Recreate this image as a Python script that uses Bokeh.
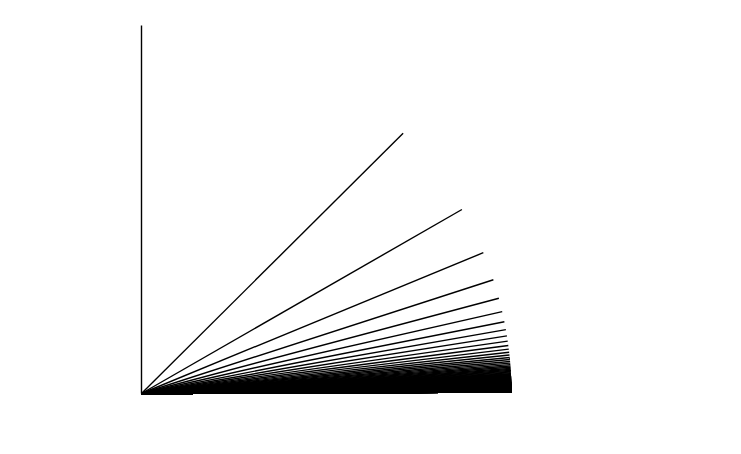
import math
from bokeh.plotting import figure
from bokeh.models import Range1d
from bokeh.embed import file_html
from bokeh.resources import INLINE

# Line index n; each ray goes from the origin at angle 90/n degrees, length 1
line_index = list(range(1, 401))
angle_deg = [90.0 / n for n in line_index]

xs = [[0.0, math.cos(math.radians(a))] for a in angle_deg]
ys = [[0.0, math.sin(math.radians(a))] for a in angle_deg]

W, H = 725, 438
p = figure(width=W, height=H, output_backend="svg", toolbar_location=None,
           x_axis_type=None, y_axis_type=None, min_border=0,
           x_range=Range1d(-141 / 370, 1 + (W - 511) / 370),
           y_range=Range1d(-(H - 393) / 368, 1 + 25 / 368))
p.outline_line_color = None
p.grid.visible = False
p.multi_line(xs, ys, line_color="black", line_width=1.4)

open("out.html", "w").write(file_html(p, INLINE))
